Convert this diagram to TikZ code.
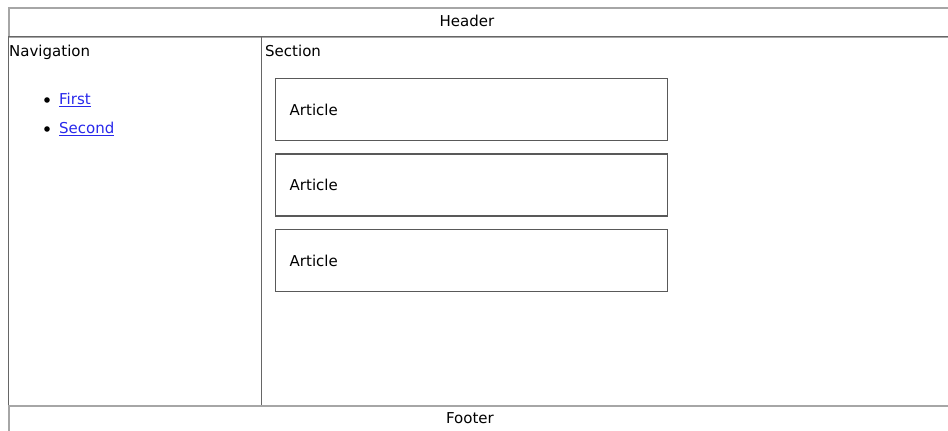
\documentclass[tikz,border=0pt]{standalone}
\usepackage{fontspec}
\setmainfont{DejaVu Sans}
\usetikzlibrary{positioning}
\definecolor{linkblue}{RGB}{40,40,235}

\begin{document}
\begin{tikzpicture}[x=1pt, y=-1pt,
	frame/.style={draw=black!35, line width=2.4pt, inner sep=0pt},
	panel/.style={draw=black!60, line width=1.3pt, inner sep=0pt},
	artbox/.style={draw=black!65, line width=1.4pt, minimum width=392pt,
	minimum height=62pt, text width=364pt, inner xsep=14pt, align=left},
	txt/.style={font=\fontsize{15}{17}\selectfont, inner sep=0pt},
	link/.style={txt, text=linkblue}
	]
	\useasboundingbox (0,0) rectangle (948,431);
	\node[frame, anchor=north west, minimum width=942pt, minimum height=29pt] (header) at (8,7) {};
	\node[panel, anchor=north west, minimum width=253pt, minimum height=369pt] (nav) at (8,36) {};
	\node[panel, anchor=north west, minimum width=689pt, minimum height=369pt] (section) at (261,36) {};
	\node[frame, anchor=north west, minimum width=942pt, minimum height=27pt] (footer) at (8,405) {};
	
	\node[txt] (htext) at (467,21) {Header};
	\node[txt] (ftext) at (470,418) {Footer};
	\node[txt, anchor=north west] (navtitle) at (9,45) {Navigation};
	\node[txt, anchor=north west] (sectitle) at (265,45) {Section};
	
	\node[link, anchor=west] (first) at (59,100) {\underline{First}};
	\node[link, anchor=west] (second) [below=15pt of first.south west, anchor=north west] {\underline{Second}};
	\fill ([xshift=-12pt]first.west) circle (2.8pt);
	\fill ([xshift=-12pt]second.west) circle (2.8pt);
	
	\node[artbox, txt, inner xsep=14pt, anchor=north west] (art1) at (275,78) {Article};
	\node[artbox, txt, inner xsep=14pt] (art2) [below=12pt of art1] {Article};
	\node[artbox, txt, inner xsep=14pt] (art3) [below=12pt of art2] {Article};
\end{tikzpicture}
\end{document}
